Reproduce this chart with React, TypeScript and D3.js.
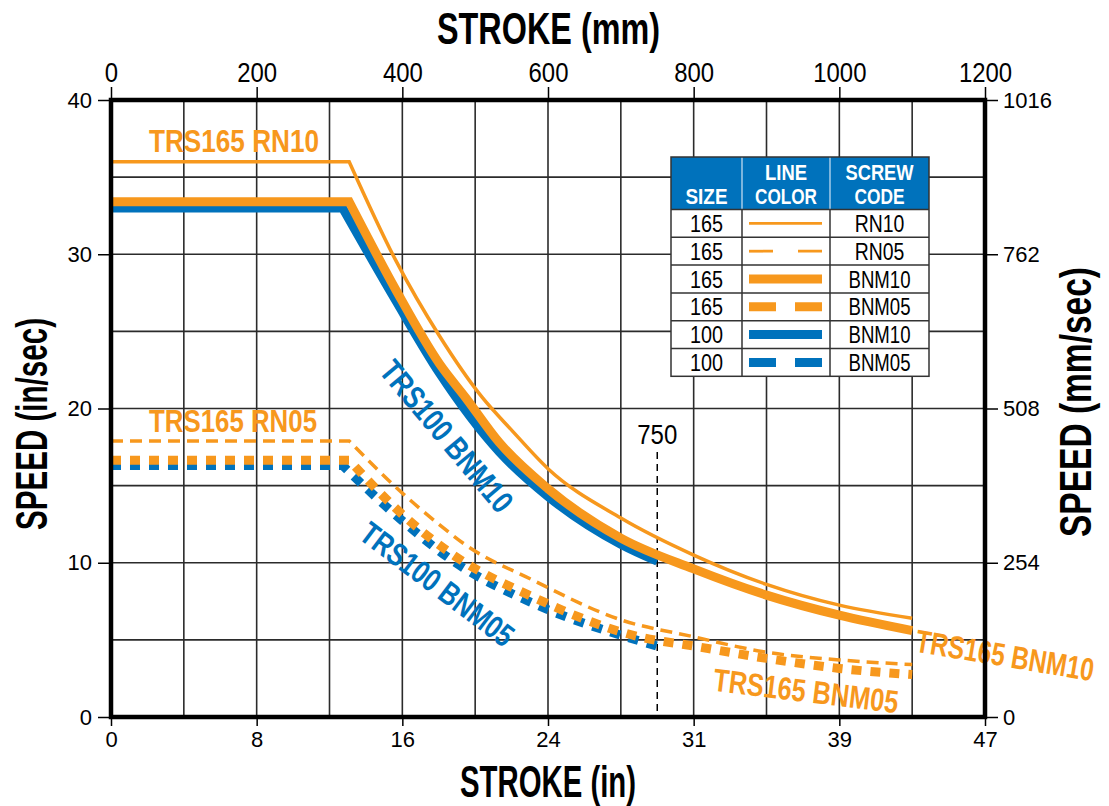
import React, { useEffect, useRef } from "react";
import * as d3 from "d3";

const ORANGE = "#F7981D";
const BLUE = "#0072BC";
const FONT = "'Liberation Sans', Arial, sans-serif";

// stroke in mm, speed in in/sec
const rn10Stroke = [0, 327, 391, 451, 510, 550, 600, 700, 800, 900, 1000, 1100];
const rn10Speed = [36, 36, 29.6, 24.7, 20.7, 18.6, 16.1, 12.9, 10.5, 8.6, 7.25, 6.4];

const rn05Stroke = [0, 327, 391, 450, 487, 578, 700, 800, 900, 1000, 1100];
const rn05Speed = [17.9, 17.9, 14.9, 12.5, 11.15, 8.9, 6.3, 5.2, 4.2, 3.7, 3.4];

const bnm10Stroke = [0, 327, 391, 451, 487, 533, 600, 700, 800, 900, 1000, 1100];
const bnm10Speed = [33.4, 33.4, 27.7, 22.9, 20.7, 17.8, 14.8, 11.6, 9.6, 7.9, 6.6, 5.6];

const bnm05Stroke = [0, 327, 403, 467, 583, 725, 800, 900, 1000, 1100];
const bnm05Speed = [16.65, 16.65, 13.0, 10.6, 7.7, 5.2, 4.6, 3.8, 3.15, 2.75];

const b100m10Stroke = [0, 318, 391, 451, 533, 600, 700, 750];
const b100m10Speed = [33.0, 33.0, 27.0, 22.3, 17.2, 14.3, 11.2, 10.1];

const b100m05Stroke = [0, 318, 403, 467, 583, 700, 750];
const b100m05Speed = [16.3, 16.3, 12.6, 10.2, 7.3, 5.3, 4.6];

const legendSizes = ["165", "165", "165", "165", "100", "100"];
const legendCodes = ["RN10", "RN05", "BNM10", "BNM05", "BNM10", "BNM05"];

const mmTicks = [0, 200, 400, 600, 800, 1000, 1200];
const inTickLabels = ["0", "8", "16", "24", "31", "39", "47"];
const speedInTicks = [0, 10, 20, 30, 40];
const speedMmTicks = [0, 254, 508, 762, 1016];
const gridMm = [100, 200, 300, 400, 500, 600, 700, 800, 900, 1000, 1100];
const gridSpeed = [5, 10, 15, 20, 25, 30, 35];
const markerStroke = 750;

const series = [
  { stroke: rn10Stroke, speed: rn10Speed, color: ORANGE, width: 3.5, dash: null, legendDash: null },
  { stroke: rn05Stroke, speed: rn05Speed, color: ORANGE, width: 3.5, dash: "12,7", legendDash: "24,25" },
  { stroke: bnm10Stroke, speed: bnm10Speed, color: ORANGE, width: 9, dash: null, legendDash: null },
  { stroke: bnm05Stroke, speed: bnm05Speed, color: ORANGE, width: 9, dash: "10,9", legendDash: "27,19" },
  { stroke: b100m10Stroke, speed: b100m10Speed, color: BLUE, width: 9, dash: null, legendDash: null },
  { stroke: b100m05Stroke, speed: b100m05Speed, color: BLUE, width: 9, dash: "10,9", legendDash: "27,19" },
];
const drawOrder = [5, 3, 1, 4, 2, 0];

const curveLabels = [
  { text: "TRS165 RN10", cx: 234, cy: 140, angle: 0, len: 170, color: ORANGE },
  { text: "TRS165 RN05", cx: 233, cy: 420.5, angle: 0, len: 168, color: ORANGE },
  { text: "TRS100 BNM10", cx: 447, cy: 436, angle: 50, len: 187, color: BLUE },
  { text: "TRS100 BNM05", cx: 437.5, cy: 584, angle: 37, len: 183, color: BLUE },
  { text: "TRS165 BNM10", cx: 1005, cy: 655, angle: 9.5, len: 180, color: ORANGE },
  { text: "TRS165 BNM05", cx: 806, cy: 690.5, angle: 7, len: 186, color: ORANGE },
];

const App: React.FC = () => {
  const ref = useRef<SVGSVGElement>(null);

  useEffect(() => {
    if (!ref.current) return;
    const svg = d3.select(ref.current);
    svg.selectAll("*").remove();

    const x = d3.scaleLinear().domain([0, 1200]).range([111, 985]);
    const y = d3.scaleLinear().domain([0, 40]).range([717, 100]);
    const yMm = d3.scaleLinear().domain([0, 1016]).range([717, 100]);

    svg.append("rect").attr("width", 1109).attr("height", 806).attr("fill", "#fff");

    // grid
    const grid = svg.append("g").attr("stroke", "#2b2b2b").attr("stroke-width", 1.6);
    grid.selectAll("line.v")
      .data(gridMm)
      .enter()
      .append("line")
      .attr("x1", (d) => x(d))
      .attr("x2", (d) => x(d))
      .attr("y1", y(40))
      .attr("y2", y(0));
    grid.selectAll("line.h")
      .data(gridSpeed)
      .enter()
      .append("line")
      .attr("x1", x(0))
      .attr("x2", x(1200))
      .attr("y1", (d) => y(d))
      .attr("y2", (d) => y(d));

    // 750 marker
    svg.append("line")
      .attr("x1", x(markerStroke))
      .attr("x2", x(markerStroke))
      .attr("y1", 452)
      .attr("y2", y(0))
      .attr("stroke", "#000")
      .attr("stroke-width", 1.5)
      .attr("stroke-dasharray", "7,5");
    svg.append("text")
      .attr("x", x(markerStroke))
      .attr("y", 444)
      .attr("text-anchor", "middle")
      .attr("font-family", FONT)
      .attr("font-size", 28)
      .attr("textLength", 40)
      .attr("lengthAdjust", "spacingAndGlyphs")
      .text(String(markerStroke));

    // curves
    const pathFor = (s: (typeof series)[number]) => {
      const pts: [number, number][] = s.stroke.map((m, i) => [x(m), y(s.speed[i])]);
      const curve = d3.line().curve(d3.curveMonotoneX)(pts.slice(1)) || "";
      return `M${pts[0][0]},${pts[0][1]}L` + curve.slice(1);
    };
    drawOrder.forEach((i) => {
      const s = series[i];
      svg.append("path")
        .attr("d", pathFor(s))
        .attr("fill", "none")
        .attr("stroke", s.color)
        .attr("stroke-width", s.width)
        .attr("stroke-linejoin", "miter")
        .attr("stroke-dasharray", s.dash);
    });

    // curve labels
    curveLabels.forEach((l) => {
      svg.append("text")
        .attr("transform", `translate(${l.cx},${l.cy}) rotate(${l.angle})`)
        .attr("y", 11.5)
        .attr("text-anchor", "middle")
        .attr("font-family", FONT)
        .attr("font-weight", 700)
        .attr("font-size", 32)
        .attr("fill", l.color)
        .attr("textLength", l.len)
        .attr("lengthAdjust", "spacingAndGlyphs")
        .text(l.text);
    });

    // legend table
    const colX = [671, 742, 830, 929];
    const headTop = 157;
    const headBottom = 209.5;
    const rowH = 27.8;
    const lg = svg.append("g");
    lg.append("rect")
      .attr("x", colX[0])
      .attr("y", headTop)
      .attr("width", colX[3] - colX[0])
      .attr("height", headBottom - headTop + rowH * legendSizes.length)
      .attr("fill", "#fff");
    lg.append("rect")
      .attr("x", colX[0])
      .attr("y", headTop)
      .attr("width", colX[3] - colX[0])
      .attr("height", headBottom - headTop)
      .attr("fill", BLUE);
    [colX[1], colX[2]].forEach((cx) => {
      lg.append("line")
        .attr("x1", cx).attr("x2", cx)
        .attr("y1", headTop).attr("y2", headBottom)
        .attr("stroke", "#cfe3f3").attr("stroke-width", 1.2);
    });
    const headText = (t: string, cx: number, by: number, len: number) =>
      lg.append("text")
        .attr("x", cx).attr("y", by)
        .attr("text-anchor", "middle")
        .attr("font-family", FONT)
        .attr("font-weight", 700)
        .attr("font-size", 22)
        .attr("fill", "#fff")
        .attr("textLength", len)
        .attr("lengthAdjust", "spacingAndGlyphs")
        .text(t);
    headText("SIZE", (colX[0] + colX[1]) / 2, 204, 42);
    headText("LINE", (colX[1] + colX[2]) / 2, 180, 42);
    headText("COLOR", (colX[1] + colX[2]) / 2, 204, 62);
    headText("SCREW", (colX[2] + colX[3]) / 2, 180, 68);
    headText("CODE", (colX[2] + colX[3]) / 2, 204, 50);

    legendSizes.forEach((sz, i) => {
      const top = headBottom + i * rowH;
      const mid = top + rowH / 2;
      lg.append("text")
        .attr("x", (colX[0] + colX[1]) / 2).attr("y", mid + 8.5)
        .attr("text-anchor", "middle")
        .attr("font-family", FONT).attr("font-size", 23)
        .attr("textLength", 33).attr("lengthAdjust", "spacingAndGlyphs")
        .text(sz);
      lg.append("text")
        .attr("x", (colX[2] + colX[3]) / 2).attr("y", mid + 8.5)
        .attr("text-anchor", "middle")
        .attr("font-family", FONT).attr("font-size", 23)
        .attr("textLength", legendCodes[i].length * 12.4)
        .attr("lengthAdjust", "spacingAndGlyphs")
        .text(legendCodes[i]);
      const s = series[i];
      lg.append("line")
        .attr("x1", 749).attr("x2", 822)
        .attr("y1", mid).attr("y2", mid)
        .attr("stroke", s.color)
        .attr("stroke-width", s.width === 9 ? 9 : 2.8)
        .attr("stroke-dasharray", s.legendDash);
      if (i > 0) {
        lg.append("line")
          .attr("x1", colX[0]).attr("x2", colX[3])
          .attr("y1", top).attr("y2", top)
          .attr("stroke", "#333").attr("stroke-width", 1.5);
      }
    });
    const bodyBottom = headBottom + rowH * legendSizes.length;
    [colX[1], colX[2]].forEach((cx) => {
      lg.append("line")
        .attr("x1", cx).attr("x2", cx)
        .attr("y1", headBottom).attr("y2", bodyBottom)
        .attr("stroke", "#333").attr("stroke-width", 1.5);
    });
    lg.append("rect")
      .attr("x", colX[0]).attr("y", headTop)
      .attr("width", colX[3] - colX[0]).attr("height", bodyBottom - headTop)
      .attr("fill", "none").attr("stroke", "#333").attr("stroke-width", 1.5);
    lg.append("line")
      .attr("x1", colX[0]).attr("x2", colX[3])
      .attr("y1", headBottom).attr("y2", headBottom)
      .attr("stroke", "#333").attr("stroke-width", 1.5);

    // axes
    const styleAxis = (g: d3.Selection<SVGGElement, unknown, null, undefined>) => {
      g.select(".domain").remove();
      g.selectAll(".tick line").attr("stroke", "#000").attr("stroke-width", 1.5);
      g.selectAll(".tick text").attr("fill", "#000").attr("font-family", FONT);
    };

    const top = svg.append("g")
      .attr("transform", "translate(0,98)")
      .call(d3.axisTop(x).tickValues(mmTicks).tickSize(11).tickPadding(5).tickFormat((d) => String(d)));
    styleAxis(top);
    top.selectAll<SVGTextElement, number>(".tick text")
      .attr("font-size", 28)
      .attr("textLength", (d) => String(d).length * 13.3)
      .attr("lengthAdjust", "spacingAndGlyphs");

    const bottom = svg.append("g")
      .attr("transform", "translate(0,719)")
      .call(d3.axisBottom(x).tickValues(mmTicks).tickSize(7).tickPadding(5).tickFormat((d, i) => inTickLabels[i]));
    styleAxis(bottom);
    bottom.selectAll(".tick text").attr("font-size", 22);

    const left = svg.append("g")
      .attr("transform", "translate(109,0)")
      .call(d3.axisLeft(y).tickValues(speedInTicks).tickSize(11).tickPadding(6));
    styleAxis(left);
    left.selectAll(".tick text").attr("font-size", 22);

    const right = svg.append("g")
      .attr("transform", "translate(987,0)")
      .call(d3.axisRight(yMm).tickValues(speedMmTicks).tickSize(11).tickPadding(5).tickFormat(d3.format("d")));
    styleAxis(right);
    right.selectAll(".tick text").attr("font-size", 22);

    // frame
    svg.append("rect")
      .attr("x", x(0))
      .attr("y", y(40))
      .attr("width", x(1200) - x(0))
      .attr("height", y(0) - y(40))
      .attr("fill", "none")
      .attr("stroke", "#000")
      .attr("stroke-width", 4.5);

    // axis titles
    const title = (t: string, tx: number, ty: number, rot: number, len: number) =>
      svg.append("text")
        .attr("transform", `translate(${tx},${ty}) rotate(${rot})`)
        .attr("text-anchor", "middle")
        .attr("font-family", FONT)
        .attr("font-weight", 700)
        .attr("font-size", 44)
        .attr("textLength", len)
        .attr("lengthAdjust", "spacingAndGlyphs")
        .text(t);
    title("STROKE (mm)", 548.5, 44, 0, 223);
    title("STROKE (in)", 548, 797, 0, 176);
    title("SPEED (in/sec)", 47, 424, -90, 212);
    title("SPEED (mm/sec)", 1091, 402, -90, 270);
  }, []);

  return (
    <svg
      ref={ref}
      width={1109}
      height={806}
      style={{ position: "absolute", left: 0, top: 0, display: "block" }}
    />
  );
};

export default App;
